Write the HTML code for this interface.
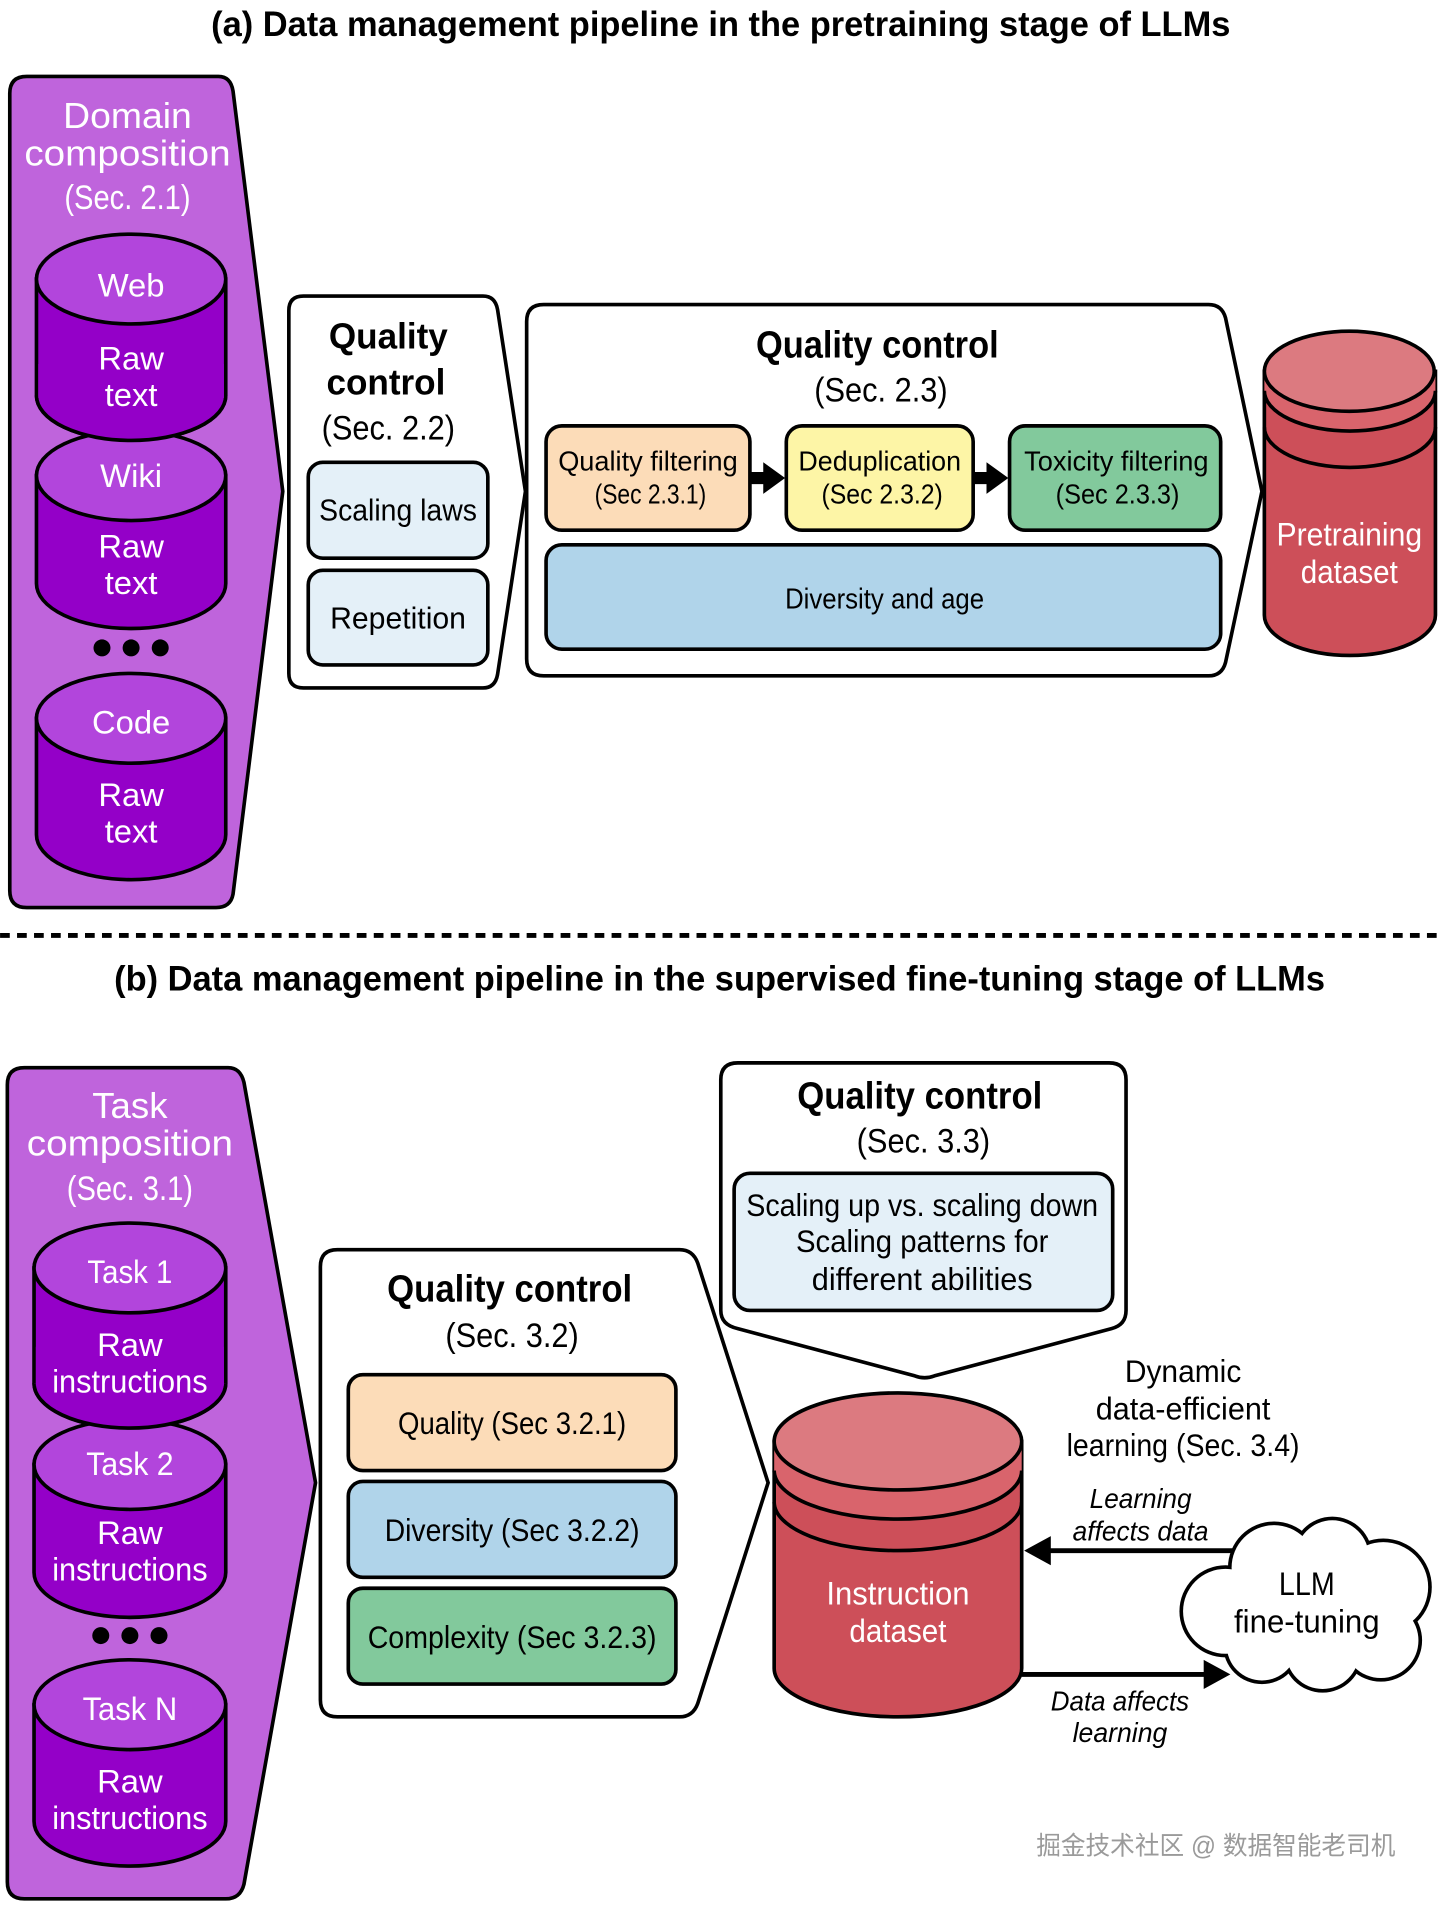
<!DOCTYPE html>
<html><head><meta charset="utf-8"><style>
html,body{margin:0;padding:0;background:#fff;}
svg{display:block;}
text{font-family:"Liberation Sans","Noto Sans CJK SC",sans-serif;text-anchor:middle;dominant-baseline:central;}
.w{fill:#fff;}
.b{font-weight:bold;}
</style></head><body>
<svg width="1444" height="1911" viewBox="0 0 1190 1575" xmlns="http://www.w3.org/2000/svg">
<rect width="1190" height="1575" fill="#fff"/>
<!-- Title a -->
<text x="594" y="20" font-size="29" font-weight="bold" textLength="840" lengthAdjust="spacingAndGlyphs">(a) Data management pipeline in the pretraining stage of LLMs</text>

<!-- Domain box -->
<path d="M22,63 L180,63 Q190,63 192,75 L233,405 L192,737 Q190,748 178,748 L22,748 Q8,748 8,734 L8,77 Q8,63 22,63 Z" fill="#bf64dc" stroke="#000" stroke-width="3"/>
<text class="w" x="105" y="95" font-size="30" textLength="106" lengthAdjust="spacingAndGlyphs">Domain</text>
<text class="w" x="105" y="126" font-size="30" textLength="170" lengthAdjust="spacingAndGlyphs">composition</text>
<text class="w" x="105" y="163" font-size="28" textLength="104" lengthAdjust="spacingAndGlyphs">(Sec. 2.1)</text>

<g stroke="#000" stroke-width="3">
<path d="M30,230 L30,326 A78,37 0 0 0 186,326 L186,230 Z" fill="#9400c8"/>
<ellipse cx="108" cy="230" rx="78" ry="37" fill="#b245dc"/>
<path d="M30,392 L30,481 A78,37 0 0 0 186,481 L186,392 Z" fill="#9400c8"/>
<ellipse cx="108" cy="392" rx="78" ry="37" fill="#b245dc"/>
<path d="M30,592 L30,688 A78,37 0 0 0 186,688 L186,592 Z" fill="#9400c8"/>
<ellipse cx="108" cy="592" rx="78" ry="37" fill="#b245dc"/>
</g>
<!-- redraw Web bottom over Wiki top -->
<path d="M30,326 A78,37 0 0 0 186,326" fill="#9400c8" stroke="#000" stroke-width="3"/>
<rect x="31.5" y="300" width="153" height="28" fill="#9400c8"/>
<g font-size="27">
<text class="w" x="108" y="235">Web</text><text class="w" x="108" y="295">Raw</text><text class="w" x="108" y="325">text</text>
<text class="w" x="108" y="392">Wiki</text><text class="w" x="108" y="450">Raw</text><text class="w" x="108" y="480">text</text>
<text class="w" x="108" y="595">Code</text><text class="w" x="108" y="655">Raw</text><text class="w" x="108" y="685">text</text>
</g>
<circle cx="84" cy="534" r="7"/><circle cx="108" cy="534" r="7"/><circle cx="132" cy="534" r="7"/>

<!-- QC 2.2 -->
<path d="M250,244 L398,244 Q408,244 410,255 L433,405 L410,556 Q408,567 398,567 L250,567 Q238,567 238,555 L238,256 Q238,244 250,244 Z" fill="#fff" stroke="#000" stroke-width="3"/>
<text x="320" y="277" font-size="30" class="b" textLength="98" lengthAdjust="spacingAndGlyphs">Quality</text>
<text x="318" y="315" font-size="30" class="b" textLength="98" lengthAdjust="spacingAndGlyphs">control</text>
<text x="320" y="353" font-size="28" textLength="110" lengthAdjust="spacingAndGlyphs">(Sec. 2.2)</text>
<rect x="254" y="381" width="148" height="79" rx="12" fill="#e4f0f8" stroke="#000" stroke-width="3"/>
<text x="328" y="421" font-size="25" textLength="130" lengthAdjust="spacingAndGlyphs">Scaling laws</text>
<rect x="254" y="470" width="148" height="78" rx="12" fill="#e4f0f8" stroke="#000" stroke-width="3"/>
<text x="328" y="510" font-size="25" textLength="112" lengthAdjust="spacingAndGlyphs">Repetition</text>

<!-- QC 2.3 -->
<path d="M448,251 L996,251 Q1007,251 1010,262 L1040,405 L1010,546 Q1007,557 996,557 L448,557 Q434,557 434,543 L434,265 Q434,251 448,251 Z" fill="#fff" stroke="#000" stroke-width="3"/>
<text x="723" y="284" font-size="31" class="b" textLength="200" lengthAdjust="spacingAndGlyphs">Quality control</text>
<text x="726" y="322" font-size="28" textLength="110" lengthAdjust="spacingAndGlyphs">(Sec. 2.3)</text>
<rect x="450" y="351" width="168" height="86" rx="13" fill="#fcdcb8" stroke="#000" stroke-width="3"/>
<rect x="648" y="351" width="154" height="86" rx="13" fill="#fdf5a6" stroke="#000" stroke-width="3"/>
<rect x="832" y="351" width="174" height="86" rx="13" fill="#82c99c" stroke="#000" stroke-width="3"/>
<path d="M619,389 L629,389 L629,381 L647,394 L629,407 L629,399 L619,399 Z"/>
<path d="M803,389 L813,389 L813,381 L831,394 L813,407 L813,399 L803,399 Z"/>
<g font-size="23">
<text x="534" y="380" textLength="148" lengthAdjust="spacingAndGlyphs">Quality filtering</text>
<text x="536" y="407" textLength="92" lengthAdjust="spacingAndGlyphs">(Sec 2.3.1)</text>
<text x="725" y="380" textLength="134" lengthAdjust="spacingAndGlyphs">Deduplication</text>
<text x="727" y="407" textLength="100" lengthAdjust="spacingAndGlyphs">(Sec 2.3.2)</text>
<text x="920" y="380" textLength="152" lengthAdjust="spacingAndGlyphs">Toxicity filtering</text>
<text x="921" y="407" textLength="102" lengthAdjust="spacingAndGlyphs">(Sec  2.3.3)</text>
</g>
<rect x="450" y="449" width="556" height="86" rx="13" fill="#b0d4ea" stroke="#000" stroke-width="3"/>
<text x="729" y="494" font-size="24" textLength="164" lengthAdjust="spacingAndGlyphs">Diversity and age</text>

<!-- Pretraining cylinder -->
<g stroke="#000" stroke-width="3">
<path d="M1042,306 L1042,507 A70,33 0 0 0 1183,507 L1183,306 Z" fill="#cd4f59"/>
<path d="M1042,306 L1042,322 A70,33 0 0 0 1183,322 L1183,306 Z" fill="#d9646c" stroke="none"/>
<path d="M1042,322 A70,33 0 0 0 1183,322" fill="none"/>
<path d="M1042,352 A70,33 0 0 0 1183,352" fill="none"/>
<ellipse cx="1112" cy="306" rx="70" ry="33" fill="#dc7a80"/>
</g>
<text class="w" x="1112" y="440" font-size="27" textLength="120" lengthAdjust="spacingAndGlyphs">Pretraining</text>
<text class="w" x="1112" y="471" font-size="27" textLength="80" lengthAdjust="spacingAndGlyphs">dataset</text>

<!-- dashed -->
<line x1="0" y1="771" x2="1190" y2="771" stroke="#000" stroke-width="4" stroke-dasharray="8,6"/>
<text x="593" y="807" font-size="29" font-weight="bold" textLength="998" lengthAdjust="spacingAndGlyphs">(b) Data management pipeline in the supervised fine-tuning stage of LLMs</text>

<!-- Task box -->
<path d="M20,880 L188,880 Q198,880 201,892 L260,1222 L201,1553 Q198,1565 186,1565 L20,1565 Q6,1565 6,1551 L6,894 Q6,880 20,880 Z" fill="#bf64dc" stroke="#000" stroke-width="3"/>
<text class="w" x="107" y="911" font-size="30" textLength="62" lengthAdjust="spacingAndGlyphs">Task</text>
<text class="w" x="107" y="942" font-size="30" textLength="170" lengthAdjust="spacingAndGlyphs">composition</text>
<text class="w" x="107" y="980" font-size="28" textLength="104" lengthAdjust="spacingAndGlyphs">(Sec. 3.1)</text>
<g stroke="#000" stroke-width="3">
<path d="M28,1045 L28,1140 A79,37 0 0 0 186,1140 L186,1045 Z" fill="#9400c8"/>
<ellipse cx="107" cy="1045" rx="79" ry="37" fill="#b245dc"/>
<path d="M28,1207 L28,1296 A79,37 0 0 0 186,1296 L186,1207 Z" fill="#9400c8"/>
<ellipse cx="107" cy="1207" rx="79" ry="37" fill="#b245dc"/>
<path d="M28,1405 L28,1501 A79,37 0 0 0 186,1501 L186,1405 Z" fill="#9400c8"/>
<ellipse cx="107" cy="1405" rx="79" ry="37" fill="#b245dc"/>
</g>
<path d="M28,1140 A79,37 0 0 0 186,1140" fill="#9400c8" stroke="#000" stroke-width="3"/>
<rect x="29.5" y="1110" width="155" height="32" fill="#9400c8"/>
<g font-size="27">
<text class="w" x="107" y="1048" textLength="70" lengthAdjust="spacingAndGlyphs">Task 1</text>
<text class="w" x="107" y="1108">Raw</text>
<text class="w" x="107" y="1138" textLength="128" lengthAdjust="spacingAndGlyphs">instructions</text>
<text class="w" x="107" y="1206" textLength="72" lengthAdjust="spacingAndGlyphs">Task 2</text>
<text class="w" x="107" y="1263">Raw</text>
<text class="w" x="107" y="1293" textLength="128" lengthAdjust="spacingAndGlyphs">instructions</text>
<text class="w" x="107" y="1408" textLength="78" lengthAdjust="spacingAndGlyphs">Task N</text>
<text class="w" x="107" y="1468">Raw</text>
<text class="w" x="107" y="1498" textLength="128" lengthAdjust="spacingAndGlyphs">instructions</text>
</g>
<circle cx="83" cy="1348" r="7"/><circle cx="107" cy="1348" r="7"/><circle cx="131" cy="1348" r="7"/>

<!-- QC 3.2 -->
<path d="M278,1030 L560,1030 Q571,1030 575,1041 L633,1222 L575,1404 Q571,1415 560,1415 L278,1415 Q264,1415 264,1401 L264,1044 Q264,1030 278,1030 Z" fill="#fff" stroke="#000" stroke-width="3"/>
<text x="420" y="1062" font-size="31" class="b" textLength="202" lengthAdjust="spacingAndGlyphs">Quality control</text>
<text x="422" y="1101" font-size="28" textLength="110" lengthAdjust="spacingAndGlyphs">(Sec. 3.2)</text>
<rect x="287" y="1133" width="270" height="79" rx="12" fill="#fcdcb8" stroke="#000" stroke-width="3"/>
<rect x="287" y="1221" width="270" height="79" rx="12" fill="#b0d4ea" stroke="#000" stroke-width="3"/>
<rect x="287" y="1309" width="270" height="79" rx="12" fill="#82c99c" stroke="#000" stroke-width="3"/>
<g font-size="26">
<text x="422" y="1173" textLength="188" lengthAdjust="spacingAndGlyphs">Quality (Sec 3.2.1)</text>
<text x="422" y="1261" textLength="210" lengthAdjust="spacingAndGlyphs">Diversity (Sec 3.2.2)</text>
<text x="422" y="1349" textLength="238" lengthAdjust="spacingAndGlyphs">Complexity (Sec 3.2.3)</text>
</g>

<!-- QC 3.3 callout -->
<path d="M608,876 L914,876 Q928,876 928,890 L928,1080 Q928,1092 916,1095 L770,1134 Q762,1137 754,1134 L608,1095 Q594,1092 594,1080 L594,890 Q594,876 608,876 Z" fill="#fff" stroke="#000" stroke-width="3"/>
<text x="758" y="903" font-size="31" class="b" textLength="202" lengthAdjust="spacingAndGlyphs">Quality control</text>
<text x="761" y="941" font-size="28" textLength="110" lengthAdjust="spacingAndGlyphs">(Sec. 3.3)</text>
<rect x="605" y="967" width="312" height="113" rx="13" fill="#e4f0f8" stroke="#000" stroke-width="3"/>
<g font-size="26">
<text x="760" y="993" textLength="290" lengthAdjust="spacingAndGlyphs">Scaling up vs. scaling down</text>
<text x="760" y="1023" textLength="208" lengthAdjust="spacingAndGlyphs">Scaling patterns for</text>
<text x="760" y="1054" textLength="182" lengthAdjust="spacingAndGlyphs">different abilities</text>
</g>

<!-- Instruction dataset -->
<g stroke="#000" stroke-width="3">
<path d="M638,1188 L638,1375 A102,40 0 0 0 842,1375 L842,1188 Z" fill="#cd4f59"/>
<path d="M638,1188 L638,1212 A102,40 0 0 0 842,1212 L842,1188 Z" fill="#d9646c" stroke="none"/>
<path d="M638,1212 A102,40 0 0 0 842,1212" fill="none"/>
<path d="M638,1238 A102,40 0 0 0 842,1238" fill="none"/>
<ellipse cx="740" cy="1188" rx="102" ry="40" fill="#dc7a80"/>
</g>
<text class="w" x="740" y="1313" font-size="27" textLength="118" lengthAdjust="spacingAndGlyphs">Instruction</text>
<text class="w" x="740" y="1344" font-size="27" textLength="80" lengthAdjust="spacingAndGlyphs">dataset</text>

<!-- dynamic -->
<g font-size="26">
<text x="975" y="1130" textLength="96" lengthAdjust="spacingAndGlyphs">Dynamic</text>
<text x="975" y="1161" textLength="144" lengthAdjust="spacingAndGlyphs">data-efficient</text>
<text x="975" y="1191" textLength="192" lengthAdjust="spacingAndGlyphs">learning (Sec. 3.4)</text>
</g>
<g font-size="23" font-style="italic">
<text x="940" y="1235" textLength="84" lengthAdjust="spacingAndGlyphs">Learning</text>
<text x="940" y="1262" textLength="112" lengthAdjust="spacingAndGlyphs">affects data</text>
<text x="923" y="1402" textLength="114" lengthAdjust="spacingAndGlyphs">Data affects</text>
<text x="923" y="1428" textLength="78" lengthAdjust="spacingAndGlyphs">learning</text>
</g>
<line x1="862" y1="1278" x2="1020" y2="1278" stroke="#000" stroke-width="4"/>
<path d="M844,1278 L866,1266 L866,1290 Z"/>
<line x1="842" y1="1380" x2="995" y2="1380" stroke="#000" stroke-width="4"/>
<path d="M1014,1380 L992,1368 L992,1392 Z"/>

<!-- cloud -->
<g fill="#000">
<circle cx="1010" cy="1328" r="38"/><circle cx="1050" cy="1292" r="38"/><circle cx="1098" cy="1283" r="33"/>
<circle cx="1140" cy="1308" r="40"/><circle cx="1138" cy="1352" r="34"/><circle cx="1090" cy="1362" r="33"/>
<circle cx="1040" cy="1356" r="32"/><circle cx="1077" cy="1322" r="45"/>
</g>
<g fill="#fff">
<circle cx="1010" cy="1328" r="35"/><circle cx="1050" cy="1292" r="35"/><circle cx="1098" cy="1283" r="30"/>
<circle cx="1140" cy="1308" r="37"/><circle cx="1138" cy="1352" r="31"/><circle cx="1090" cy="1362" r="30"/>
<circle cx="1040" cy="1356" r="29"/><circle cx="1077" cy="1322" r="42"/>
</g>
<text x="1077" y="1305" font-size="27" textLength="46" lengthAdjust="spacingAndGlyphs">LLM</text>
<text x="1077" y="1336" font-size="27" textLength="120" lengthAdjust="spacingAndGlyphs">fine-tuning</text>

<text x="1002" y="1522" font-size="21" fill="#9a9a9a" textLength="296" lengthAdjust="spacingAndGlyphs">掘金技术社区 @ 数据智能老司机</text>
</svg>
</body></html>
